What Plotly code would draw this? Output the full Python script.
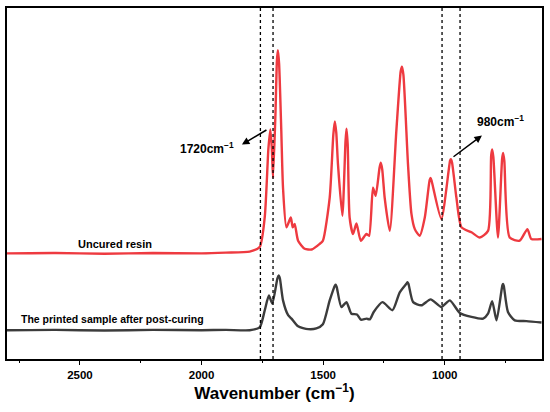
import plotly.graph_objects as go

# Uncured resin spectrum (wavenumber, intensity a.u.)
uncured_wn = [2800, 2600, 2400, 2200, 2000, 1900, 1802, 1761, 1740, 1725, 1717, 1711, 1706, 1696, 1690, 1686, 1681, 1672, 1665, 1651,
              1633, 1625, 1617, 1603, 1576, 1547, 1514, 1501, 1473, 1458, 1452, 1446, 1439, 1421, 1408, 1404, 1399, 1391,
              1377, 1363, 1345, 1322, 1311, 1295, 1284, 1268, 1263, 1257, 1247, 1226, 1199, 1181, 1176, 1170, 1151,
              1137, 1123, 1103, 1082, 1062, 1058, 1053, 1014, 978, 975, 970, 952, 931, 890, 856, 822, 809, 805, 800,
              781, 764, 760, 755, 733, 692, 660, 644, 602]
uncured_int = [30.1, 30.2, 30.0, 30.2, 30.1, 30.3, 30.6, 31.9, 40.5, 60.0, 65.4, 60.0, 51.6, 70.0, 85.0, 88.0, 84.0, 64.9, 48.8, 37.5,
               40.3, 37.5, 38.5, 33.7, 31.4, 31.2, 32.8, 33.7, 46.0, 64.0, 67.7, 64.5, 55.5, 40.8, 62.0, 65.6, 61.0, 40.3,
               35.6, 38.6, 33.7, 35.6, 35.1, 48.8, 46.5, 54.5, 55.9, 54.0, 46.0, 36.5, 64.9, 82.0, 83.3, 81.0, 55.4,
               41.4, 37.0, 35.1, 40.3, 51.0, 51.6, 50.5, 39.9, 56.5, 56.9, 56.0, 46.0, 37.5, 36.1, 34.6, 36.5, 58.0, 59.7, 57.5,
               34.6, 57.0, 58.7, 56.5, 34.6, 33.7, 37.0, 34.2, 34.2]

# Post-cured printed sample spectrum
cured_wn = [2800, 2600, 2400, 2200, 2000, 1900, 1802, 1761, 1740, 1723, 1709, 1688, 1683, 1678, 1665, 1644, 1630, 1603, 1562,
            1528, 1501, 1473, 1451, 1448, 1444, 1425, 1404, 1384, 1361, 1345, 1322, 1308, 1292, 1256, 1215, 1185, 1156,
            1153, 1149, 1130, 1096, 1058, 1014, 979, 938, 890, 842, 822, 805, 787, 763, 760, 757, 740, 712, 664, 602]
cured_int = [8.2, 8.3, 8.1, 8.3, 8.2, 8.3, 8.2, 9.0, 13.9, 18.1, 15.8, 23.0, 23.8, 23.0, 16.7, 12.5, 11.5, 9.3, 8.5,
             8.7, 9.9, 16.7, 21.0, 21.2, 20.5, 14.8, 16.2, 12.9, 12.7, 11.2, 11.5, 11.3, 13.4, 16.2, 13.9, 19.0, 21.6,
             21.9, 21.4, 16.2, 15.3, 17.0, 14.8, 16.7, 13.1, 12.0, 11.5, 12.9, 16.5, 11.0, 21.0, 21.4, 20.8, 13.4, 11.0, 10.8, 10.4]

# Reference dotted lines (wavenumbers)
guide_lines = [1758, 1706, 1011, 937]

red = "#ee3a40"
dark = "#3c3c3c"
font = "Liberation Sans, Arial, sans-serif"

fig = go.Figure()
fig.add_trace(go.Scatter(x=uncured_wn, y=uncured_int, mode="lines",
                         line=dict(color=red, width=2.4, shape="spline", smoothing=0.6),
                         showlegend=False, hoverinfo="skip"))
fig.add_trace(go.Scatter(x=cured_wn, y=cured_int, mode="lines",
                         line=dict(color=dark, width=2.4, shape="spline", smoothing=0.6),
                         showlegend=False, hoverinfo="skip"))

for g in guide_lines:
    fig.add_shape(type="line", xref="x", yref="paper", x0=g, x1=g, y0=0, y1=1,
                  line=dict(color="black", width=1.3, dash="dot"))

annotations = [
    dict(x=1834, y=61.1, ax=1727, ay=65.5, xref="x", yref="y", axref="x", ayref="y",
         text="", showarrow=True, arrowhead=2, arrowsize=1, arrowwidth=1.5, arrowcolor="black"),
    dict(x=847, y=63.7, ax=970, ay=57.3, xref="x", yref="y", axref="x", ayref="y",
         text="", showarrow=True, arrowhead=2, arrowsize=1, arrowwidth=1.5, arrowcolor="black"),
    dict(x=1979, y=60.1, xref="x", yref="y", text="<b>1720cm<sup>−1</sup></b>", showarrow=False,
         font=dict(size=12, color="black", family=font)),
    dict(x=769, y=67.7, xref="x", yref="y", text="<b>980cm<sup>−1</sup></b>", showarrow=False,
         font=dict(size=12, color="black", family=font)),
    dict(x=2357, y=32.9, xref="x", yref="y", text="<b>Uncured resin</b>", showarrow=False,
         font=dict(size=11, color="black", family=font)),
    dict(x=2368, y=11.5, xref="x", yref="y", text="<b>The printed sample after post-curing</b>", showarrow=False,
         font=dict(size=10.5, color="black", family=font)),
]

fig.update_layout(
    width=550, height=412,
    margin=dict(l=7, r=7, t=6, b=53),
    paper_bgcolor="white", plot_bgcolor="white",
    font=dict(family=font, color="black"),
    annotations=annotations,
    xaxis=dict(range=[2800, 600], showgrid=False, zeroline=False,
               showline=True, linecolor="black", linewidth=1.5, mirror=True,
               ticks="outside", ticklen=4, tickwidth=1.2, tickcolor="black",
               tickvals=[2500, 2000, 1500, 1000], ticktext=["<b>2500</b>", "<b>2000</b>", "<b>1500</b>", "<b>1000</b>"],
               tickfont=dict(size=11.5, family=font),
               minor=dict(tickvals=[2750, 2250, 1750, 1250, 750], ticks="outside", ticklen=2.5, tickwidth=1, tickcolor="black"),
               title=dict(text="<b>Wavenumber (cm<sup>−1</sup>)</b>", font=dict(size=17, family=font), standoff=8)),
    yaxis=dict(range=[0, 100], showgrid=False, zeroline=False, showticklabels=False, ticks="",
               showline=True, linecolor="black", linewidth=1.5, mirror=True),
)

fig.write_html("out.html", config={"displayModeBar": False},
               post_script="document.body.style.margin='0';document.body.style.overflow='hidden';")
